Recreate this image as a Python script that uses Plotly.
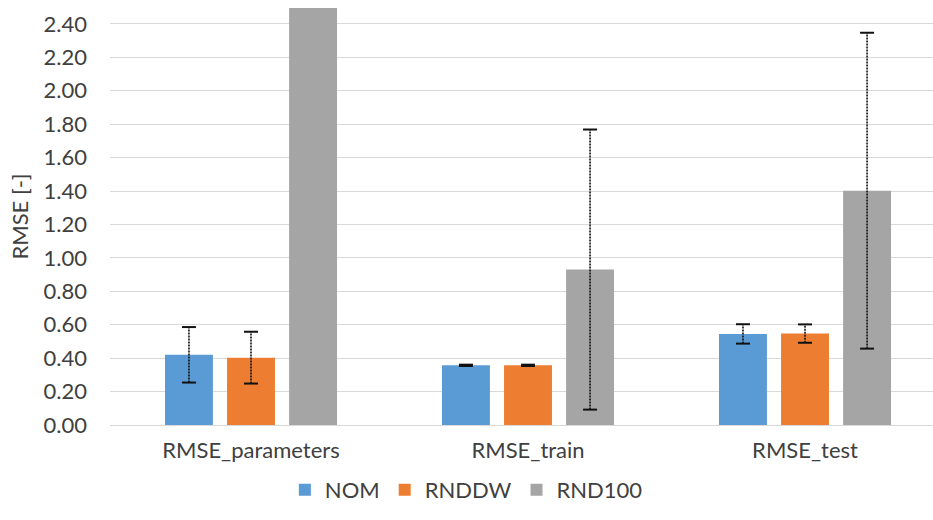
import plotly.graph_objects as go

# Metrics on the category axis
categories = ["RMSE_parameters", "RMSE_train", "RMSE_test"]

# Mean RMSE per model
nom = [0.42, 0.357, 0.545]
rnddw = [0.403, 0.357, 0.547]
rnd100 = [2.50, 0.93, 1.402]

# Half-width of the error range (standard deviation)
nom_err = [0.166, 0.004, 0.058]
rnddw_err = [0.155, 0.004, 0.055]
rnd100_err = [None, 0.838, 0.945]

series = [
    ("NOM", nom, nom_err, "#5b9bd5"),
    ("RNDDW", rnddw, rnddw_err, "#ed7d31"),
    ("RND100", rnd100, rnd100_err, "#a5a5a5"),
]

FONT = "Lato, 'Open Sans', sans-serif"
TXT = "#404040"
FS = 22
slot = 0.224      # spacing between bars within a group
bar_w = 0.173     # bar width in category units

fig = go.Figure()
idx = list(range(len(categories)))

for k, (name, vals, errs, color) in enumerate(series):
    off = (k - 1) * slot
    xs = [i + off for i in idx]
    fig.add_trace(go.Bar(
        x=xs, y=vals, width=bar_w, name=name,
        marker=dict(color=color, line=dict(width=0)),
        showlegend=True,
    ))
    # dashed whiskers
    lx, ly, cx, cy = [], [], [], []
    for x, v, e in zip(xs, vals, errs):
        if e is None:
            continue
        lx += [x, x, None]
        ly += [v - e, v + e, None]
        cx += [x, x]
        cy += [v - e, v + e]
    fig.add_trace(go.Scatter(
        x=lx, y=ly, mode="lines", showlegend=False, hoverinfo="skip",
        line=dict(color="#111111", width=1.6, dash="2px,1px"),
    ))
    fig.add_trace(go.Scatter(
        x=cx, y=cy, mode="markers", showlegend=False, hoverinfo="skip",
        marker=dict(symbol="line-ew", size=10,
                    line=dict(color="#111111", width=2)),
    ))

fig.update_layout(
    width=933, height=520,
    margin=dict(l=110, r=0, t=8, b=95, autoexpand=False),
    paper_bgcolor="white", plot_bgcolor="white",
    font=dict(family=FONT, size=FS, color=TXT),
    barmode="overlay",
    legend=dict(orientation="h", x=0.433, xanchor="center",
                y=-0.156, yanchor="middle",
                font=dict(family=FONT, size=FS, color=TXT),
                itemwidth=30, traceorder="normal"),
)
fig.update_xaxes(
    range=[-0.509, 2.462], tickvals=idx, ticktext=categories,
    showgrid=False, zeroline=False, showline=False, ticks="",
    tickangle=0, automargin=False, ticklabelstandoff=10,
    tickfont=dict(family=FONT, size=FS, color=TXT),
)
fig.update_yaxes(
    range=[0, 2.495], tickvals=[i * 0.2 for i in range(13)],
    tickformat=".2f", showgrid=True, gridcolor="#d9d9d9", gridwidth=1,
    zeroline=True, zerolinecolor="#d9d9d9", zerolinewidth=1,
    showline=False, ticks="", ticklabelstandoff=22, automargin=False,
    tickfont=dict(family=FONT, size=FS, color=TXT),
    title=dict(text="RMSE [-]", font=dict(family=FONT, size=FS, color=TXT),
               standoff=8),
)

fig.write_html("out.html")
